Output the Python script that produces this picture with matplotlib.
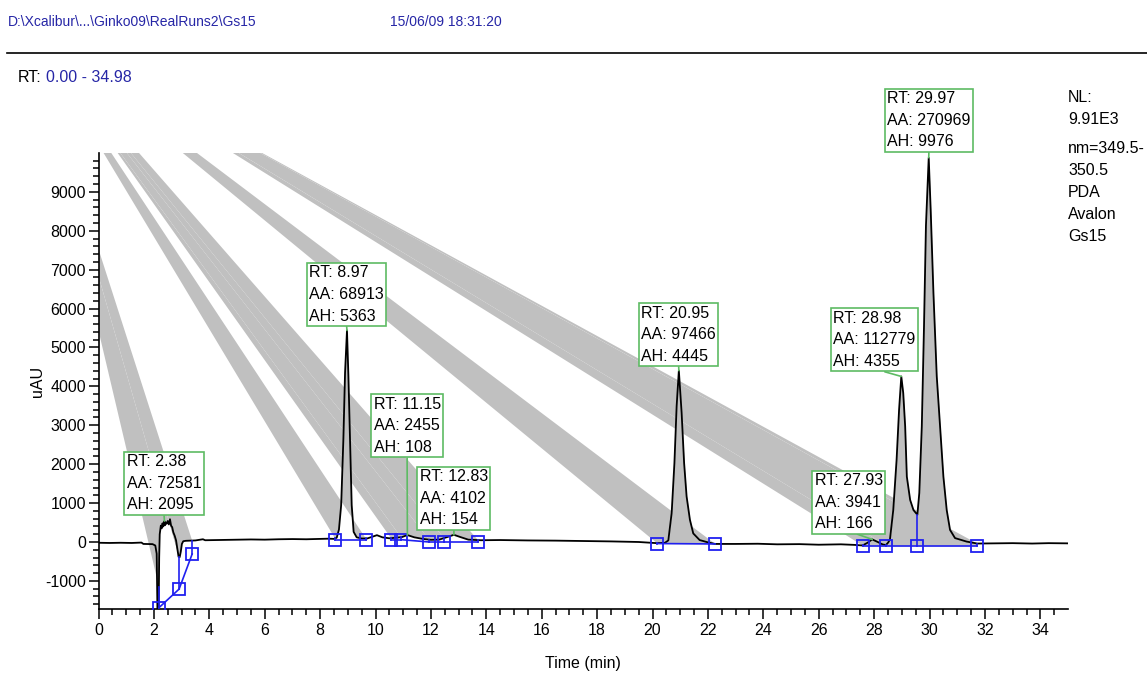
import numpy as np
import matplotlib.pyplot as plt
from matplotlib.patches import Polygon
from matplotlib.ticker import MultipleLocator

plt.rcParams['font.family'] = ['Liberation Sans', 'DejaVu Sans']
plt.rcParams['axes.unicode_minus'] = False

# PDA trace, 349.5-350.5 nm (time in min, signal in uAU)
tempo = [0.00, 0.40, 0.80, 1.20, 1.55, 1.62, 1.95, 2.05, 2.10, 2.13, 2.17, 2.19,
         2.21, 2.25, 2.28, 2.31, 2.34, 2.38, 2.40, 2.43, 2.46, 2.50, 2.54, 2.58,
         2.62, 2.66, 2.70, 2.75, 2.80, 2.85, 2.89, 2.93, 2.97, 3.01, 3.06, 3.15,
         3.50, 3.77, 3.85, 4.30, 5.00, 5.50, 6.00, 6.50, 7.00, 7.50, 8.00, 8.30,
         8.50, 8.60, 8.68, 8.76, 8.84, 8.90, 8.97, 9.02, 9.08, 9.14, 9.21, 9.32,
         9.50, 9.70, 9.90, 10.05, 10.25, 10.50, 10.75, 10.95, 11.15, 11.40, 11.70,
         12.00, 12.30, 12.60, 12.83, 13.05, 13.35, 13.80, 14.50, 15.50, 16.50,
         17.50, 18.50, 19.50, 20.16, 20.45, 20.57, 20.69, 20.79, 20.87, 20.95,
         21.05, 21.14, 21.23, 21.35, 21.47, 21.70, 22.00, 22.26, 23.00, 23.80,
         24.50, 25.30, 26.00, 26.80, 27.30, 27.58, 27.76, 27.93, 28.10, 28.30,
         28.42, 28.50, 28.57, 28.69, 28.81, 28.90, 28.98, 29.05, 29.12, 29.18,
         29.30, 29.42, 29.56, 29.63, 29.72, 29.80, 29.87, 29.97, 30.04, 30.14,
         30.26, 30.38, 30.50, 30.62, 30.74, 30.92, 31.34, 31.72, 32.30, 33.00,
         33.70, 34.30, 34.98]
sinal = [-20, -25, -20, -25, -15, -50, -55, -90, -300, -1900, -1900, -400,
         200, 420, 350, 480, 400, 537, 430, 500, 470, 540, 450, 585,
         420, 380, 250, 160, 40, -200, -380, -390, -250, -50, 20, 30,
         40, 70, 45, 50, 55, 65, 60, 70, 75, 70, 80, 85,
         80, 110, 320, 950, 2650, 4350, 5438, 4300, 2600, 950, 260, 120,
         90, 90, 140, 175, 120, 95, 110, 125, 178, 120, 80,
         55, 60, 130, 184, 130, 60, 45, 50, 40, 35,
         25, 15, 0, -30, -20, 40, 740, 2030, 3490, 4405,
         3320, 2030, 1170, 570, 220, 50, -10, -50, -50, -45,
         -60, -55, -70, -60, -75, -90, -20, 66, 10, -60,
         -80, -20, 60, 820, 2110, 3400, 4255, 3830, 2970, 1680,
         1080, 820, 700, 1260, 2970, 5550, 8130, 9876, 8560, 6410,
         4260, 2970, 1680, 820, 310, 100, 10, -40, -35, -30,
         -40, -30, -35]

# integration marks and the baselines drawn between them
marca_t = [2.18, 2.91, 3.38, 8.54, 9.65, 10.56, 10.92, 11.93, 12.47, 13.70,
           20.16, 22.26, 27.58, 28.42, 29.56, 31.72]
marca_v = [-1690, -1210, -310, 60, 60, 60, 60, 0, 0, 0,
           -40, -50, -100, -100, -100, -100]
segmentos = [(0, 1), (1, 2), (3, 4), (5, 6), (6, 7), (7, 8), (8, 9),
             (10, 11), (12, 13), (13, 14), (14, 15)]
preenche = [False, False, False, False, False, False, False,
            True, True, True, True]

# peak table
rt = [2.38, 8.97, 11.15, 12.83, 20.95, 27.93, 28.98, 29.97]
aa = [72581, 68913, 2455, 4102, 97466, 3941, 112779, 270969]
ah = [2095, 5363, 108, 154, 4445, 166, 4355, 9976]

# label box anchors (bottom centre, data units)
caixa_x = [2.36, 8.95, 11.14, 12.83, 20.94, 27.09, 28.00, 29.98]
caixa_y = [765, 5611, 2235, 379, 4580, 276, 4451, 10095]

cinza = '#c0c0c0'
azul = '#2020f0'
verde = '#5dbb63'
azul_txt = '#2626a6'
vertice = (-2.61, 13310)

t = np.array(tempo)
v = np.array(sinal)

fig = plt.figure(figsize=(11.47, 6.82), dpi=100)
ax = fig.add_axes([0.08588, 0.10660, 0.84481, 0.66862])

for k, (i0, i1) in enumerate(segmentos):
    t0, t1 = marca_t[i0], marca_t[i1]
    m = (t > t0) & (t < t1)
    xs = np.concatenate([[t0], t[m], [t1]])
    ys = np.concatenate([[np.interp(t0, t, v)], v[m], [np.interp(t1, t, v)]])
    pts = np.column_stack([np.r_[vertice[0], xs], np.r_[vertice[1], ys]])
    ax.add_patch(Polygon(pts, closed=True, facecolor=cinza, edgecolor='none', zorder=1))
    if preenche[k]:
        base = np.interp(xs, [t0, t1], [marca_v[i0], marca_v[i1]])
        ax.fill_between(xs, ys, base, color=cinza, lw=0, zorder=1)

ax.plot(t, v, color='k', lw=1.3, zorder=3)

for i0, i1 in segmentos:
    ax.plot([marca_t[i0], marca_t[i1]], [marca_v[i0], marca_v[i1]], color=azul, lw=1.2, zorder=4)
for tm, vm in zip(marca_t, marca_v):
    ax.plot([tm, tm], [vm, np.interp(tm, t, v)], color=azul, lw=1.2, zorder=4)
ax.plot(marca_t, marca_v, 's', mfc='none', mec=azul, ms=8, mew=1.3, zorder=4)

for i in range(len(rt)):
    txt = 'RT: %.2f\nAA: %d\nAH: %d' % (rt[i], aa[i], ah[i])
    ax.annotate(txt, xy=(rt[i], np.interp(rt[i], t, v)), xytext=(caixa_x[i], caixa_y[i]),
                textcoords='data', ha='center', va='bottom', multialignment='left',
                fontsize=11.5, linespacing=1.55, annotation_clip=False, zorder=6,
                bbox=dict(boxstyle='square,pad=0.15', fc='white', ec=verde, lw=1.2),
                arrowprops=dict(arrowstyle='-', color=verde, lw=1.2, relpos=(0.5, 0),
                                shrinkA=0, shrinkB=0))

ax.set_xlim(0, 34.98)
ax.set_ylim(-1730, 9990)
ax.xaxis.set_major_locator(MultipleLocator(2))
ax.xaxis.set_minor_locator(MultipleLocator(0.5))
ax.yaxis.set_major_locator(MultipleLocator(1000))
ax.yaxis.set_minor_locator(MultipleLocator(200))
ax.tick_params(which='both', direction='out', width=1.1, labelsize=11.5)
ax.tick_params(which='major', length=7)
ax.tick_params(which='minor', length=4.5)
ax.tick_params(axis='x', pad=3)
ax.tick_params(axis='y', pad=2)
for s in ['top', 'right']:
    ax.spines[s].set_visible(False)
for s in ['left', 'bottom']:
    ax.spines[s].set_linewidth(1.2)

ax.set_xlabel('Time (min)', fontsize=11.5)
ax.set_ylabel('uAU', fontsize=11.5)
ax.xaxis.set_label_coords(0.5, -0.102)
ax.yaxis.set_label_coords(-0.0552, 0.5)

fig.text(8 / 1147, 1 - 22 / 682, r'D:\Xcalibur\...\Ginko09\RealRuns2\Gs15', color=azul_txt,
         fontsize=10, va='center', ha='left')
fig.text(390 / 1147, 1 - 22 / 682, '15/06/09 18:31:20', color=azul_txt,
         fontsize=10, va='center', ha='left')
fig.add_artist(plt.Line2D([7 / 1147, 1.0], [1 - 53 / 682, 1 - 53 / 682], color='k', lw=1.2))
fig.text(18 / 1147, 1 - 77 / 682, 'RT:', fontsize=11.5, va='center', ha='left')
fig.text(46 / 1147, 1 - 77 / 682, '0.00 - 34.98', color=azul_txt, fontsize=11.5,
         va='center', ha='left')
fig.text(1068 / 1147, 1 - 90 / 682, 'NL:\n9.91E3', fontsize=11.5, va='top', ha='left',
         linespacing=1.58)
fig.text(1068 / 1147, 1 - 141 / 682, 'nm=349.5-\n350.5\nPDA\nAvalon\nGs15', fontsize=11.5,
         va='top', ha='left', linespacing=1.58)

fig.savefig('out.png', dpi=100)
